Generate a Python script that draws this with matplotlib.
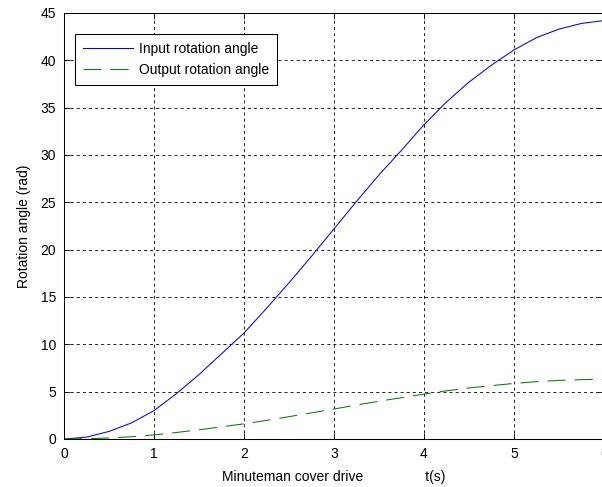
import matplotlib
matplotlib.use('Agg')
import matplotlib.pyplot as plt

plt.rcParams['font.family'] = ['Liberation Sans', 'DejaVu Sans']
plt.rcParams['font.size'] = 10
plt.rcParams['lines.scale_dashes'] = False

# 时间 t(s)
t = [0, 0.25, 0.5, 0.75, 1.0, 1.25, 1.5, 1.75, 2.0, 2.25, 2.5, 2.75, 3.0,
     3.25, 3.5, 3.75, 4.0, 4.25, 4.5, 4.75, 5.0, 5.25, 5.5, 5.75, 6.0]
# 输入转角
input_angle = [0, 0.2, 0.8, 1.7, 3.0, 4.8, 6.8, 9.0, 11.2, 13.8, 16.5, 19.3, 22.2,
               25.1, 27.9, 30.5, 33.2, 35.6, 37.7, 39.5, 41.1, 42.4, 43.3, 43.9, 44.2]
# 输出转角
output_angle = [0, 0.03, 0.11, 0.24, 0.43, 0.69, 0.97, 1.29, 1.6, 1.97, 2.36, 2.76, 3.17,
                3.59, 3.99, 4.36, 4.74, 5.09, 5.39, 5.64, 5.87, 6.06, 6.19, 6.27, 6.31]

xticks = [0, 1, 2, 3, 4, 5, 6]
yticks = [0, 5, 10, 15, 20, 25, 30, 35, 40, 45]

fig = plt.figure(figsize=(6.02, 4.87), dpi=100)
ax = fig.add_axes([64/602, 48/487, 540/602, 426/487])

l1, = ax.plot(t, input_angle, color='#0000ff', linewidth=0.75)
l2, = ax.plot(t, output_angle, color='#008000', linewidth=0.75, linestyle=(0, (13, 6.5)))

ax.set(xlim=[0, 6], ylim=[0, 45])
ax.set_xticks(xticks)
ax.set_yticks(yticks)
ax.grid(True, color='black', linestyle=(0, (2.2, 2.2)), linewidth=0.6)
ax.tick_params(direction='in', length=4, width=0.6, pad=5.5, top=True, right=True)
for s in ax.spines.values():
    s.set_linewidth(0.75)

ax.set_xlabel('Minuteman cover drive                t(s)', labelpad=7)
ax.set_ylabel('Rotation angle (rad)', labelpad=7)

leg = ax.legend(handles=[l1, l2], labels=['Input rotation angle', 'Output rotation angle'],
                loc='upper left', bbox_to_anchor=(0.0204, 0.9507), borderaxespad=0,
                fancybox=False, framealpha=1, edgecolor='black', handlelength=3.6,
                handletextpad=0.4, borderpad=0.6, labelspacing=0.45)
leg.get_frame().set_linewidth(0.75)

fig.savefig('out.png', dpi=100)
